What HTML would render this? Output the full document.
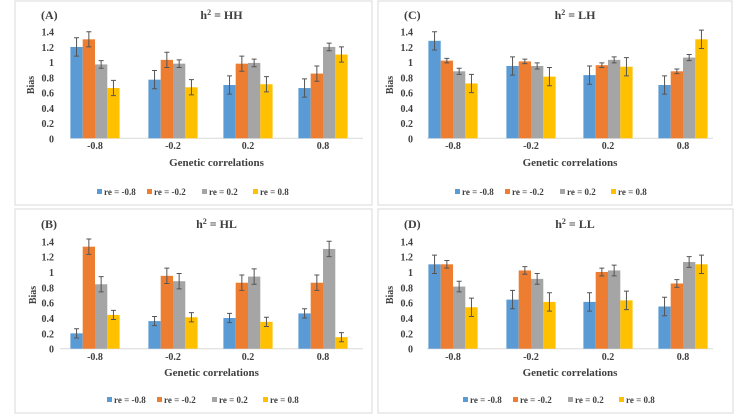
<!DOCTYPE html>
<html><head><meta charset="utf-8"><style>
body{margin:0;background:#fff;width:750px;height:414px;overflow:hidden;font-family:"Liberation Serif",serif;}
svg text{font-family:"Liberation Serif",serif;font-weight:bold;fill:#404040;}
</style></head><body>
<svg id="c" width="750" height="414"></svg>
<script>
const categories=["-0.8","-0.2","0.2","0.8"];
const seriesNames=["re = -0.8","re = -0.2","re = 0.2","re = 0.8"];
const yTicks=[0,0.2,0.4,0.6,0.8,1,1.2,1.4];
const colors=["#5b9bd5","#ed7d31","#a5a5a5","#ffc000"];
const panelA=[[1.2,0.77,0.70,0.66],[1.3,1.03,0.98,0.85],[0.97,0.98,0.99,1.2],[0.66,0.67,0.71,1.1]];
const errA=[0.12,0.1,0.05,0.1];
const panelC=[[1.28,0.95,0.83,0.70],[1.02,1.01,0.96,0.88],[0.88,0.95,1.03,1.06],[0.72,0.81,0.94,1.3]];
const errC=[0.12,0.03,0.04,0.12];
const panelB=[[0.2,0.36,0.4,0.46],[1.33,0.95,0.86,0.86],[0.84,0.88,0.94,1.3],[0.44,0.41,0.35,0.15]];
const errB=[0.06,0.1,0.1,0.06];
const panelD=[[1.1,0.64,0.61,0.55],[1.1,1.02,1.0,0.85],[0.81,0.91,1.02,1.13],[0.54,0.61,0.63,1.1]];
const errD=[0.12,0.05,0.07,0.12];
const NS="http://www.w3.org/2000/svg";
const svg=document.getElementById('c');
function mk(t,a,p){const e=document.createElementNS(NS,t);for(const k in a)e.setAttribute(k,a[k]);(p||svg).appendChild(e);return e;}
const legendOffsets=[0,50,105,156];
const panels=[
 {id:"a",lab:"(A)",title:"HH",data:panelA,err:errA,fx:15,fy:1,fw:357,fh:204,x0:70,x1:363,cx:[95,173,248,323],y0:138.3,y14:31.7,ty:15,yl:31,tl:149,xl:166,lg:192,lx:97},
 {id:"c",lab:"(C)",title:"LH",data:panelC,err:errC,fx:378,fy:1,fw:354,fh:204,x0:427,x1:713,cx:[453,531,608,683],y0:138.3,y14:31.7,ty:15,yl:390,tl:149,xl:166,lg:192,lx:455},
 {id:"b",lab:"(B)",title:"HL",data:panelB,err:errB,fx:15,fy:209,fw:357,fh:204,x0:60,x1:363,cx:[95,173,248,323],y0:348.7,y14:241.3,ty:224,yl:33,tl:360,xl:376,lg:400,lx:107},
 {id:"d",lab:"(D)",title:"LL",data:panelD,err:errD,fx:378,fy:209,fw:355,fh:204,x0:427,x1:713,cx:[453,531,608,683],y0:348.7,y14:241.3,ty:224,yl:390,tl:360,xl:376,lg:400,lx:463}
];
panels.forEach(P=>{
 const g=mk('g',{});
 
 
 const fr=mk('rect',{x:P.fx,y:P.fy,width:P.fw,height:P.fh,fill:'#fff',stroke:'#d9d9d9','stroke-width':1},g);
 
 
 const y=v=>P.y0-(P.y0-P.y14)*v/1.4;
 const lb=mk('text',{x:P.fx+26,y:P.ty+4,'font-size':12},g);lb.textContent=P.lab;
 
 
 const tt=mk('text',{x:(P.x0+P.x1)/2+5,y:P.ty+4,'font-size':12,'text-anchor':'middle'},g);
 tt.innerHTML='h<tspan dy="-4" font-size="8">2</tspan><tspan dy="4"> = '+P.title+'</tspan>';
 
 
 const tx=(P.id==='a'||P.id==='b')?54:413;
 yTicks.forEach(t=>{const e=mk('text',{x:tx,y:y(t)+4,'font-size':10,'text-anchor':'end'},g);e.textContent=String(t);
  
  });
 const yt=mk('text',{x:0,y:0,'font-size':10,'text-anchor':'middle',transform:`translate(${P.yl+3},${(P.y0+P.y14)/2}) rotate(-90)`},g);yt.textContent='Bias';
 
 
 const ax=mk('line',{x1:P.x0,x2:P.x1,y1:P.y0,y2:P.y0,stroke:'#d9d9d9','stroke-width':1},g);
 
 
 const bw=12.3;
 categories.forEach((c,ci)=>{
  const e=mk('text',{x:P.cx[ci],y:P.tl,'font-size':10,'text-anchor':'middle'},g);e.textContent=c;
  
  
  P.data.forEach((s,si)=>{
   const v=s[ci],bx=P.cx[ci]-2*bw+si*bw;
   const r=mk('rect',{x:bx,y:y(v),width:bw,height:P.y0-y(v),fill:colors[si]},g);
   
   
   const ex=bx+bw/2,e1=y(v+P.err[si]),e2=y(v-P.err[si]);
   const eb=mk('path',{d:`M${ex},${e1}V${e2}M${ex-2.5},${e1}H${ex+2.5}M${ex-2.5},${e2}H${ex+2.5}`,stroke:'#555','stroke-width':1,fill:'none'},g);
   
   
  });
 });
 const xt=mk('text',{x:(P.x0+P.x1)/2,y:P.xl,'font-size':11,'text-anchor':'middle'},g);xt.textContent=P.id==='b'?'Genetic  correlations':'Genetic correlations';
 
 
 seriesNames.forEach((n,si)=>{
  const lx=P.lx+legendOffsets[si];
  const k=mk('rect',{x:lx,y:P.lg-3,width:5,height:5,fill:colors[si]},g);
  
  
  const t=mk('text',{x:lx+7,y:P.lg+3,'font-size':9},g);t.textContent=n;
  
  
 });
});
</script>
</body></html>
